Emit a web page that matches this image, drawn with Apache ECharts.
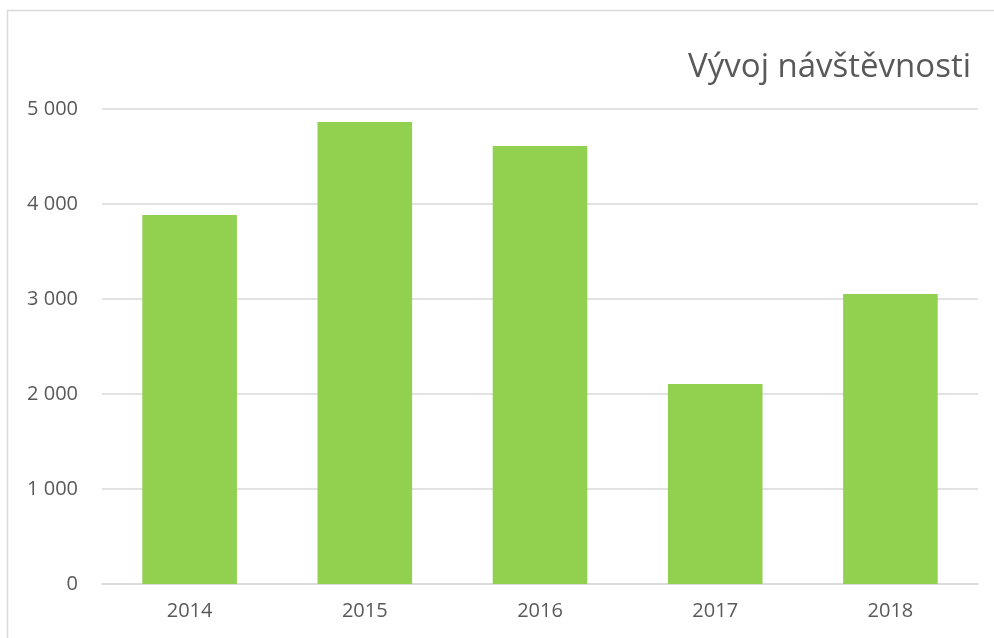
<!DOCTYPE html>
<html>
<head>
<meta charset="utf-8">
<script src="https://cdn.jsdelivr.net/npm/echarts@6/dist/echarts.min.js"></script>
<style>
  html, body { margin: 0; padding: 0; background: #fff; }
  #chart { width: 994px; height: 638px; }
</style>
</head>
<body>
<div id="chart"></div>
<script>
const years = ['2014', '2015', '2016', '2017', '2018']
const visits = [3884, 4863, 4611, 2105, 3053]
const yTicks = { min: 0, max: 5000, step: 1000 }
const titleText = 'Vývoj návštěvnosti'

// mezera jako oddělovač tisíců
const fmt = (v) => String(v).replace(/\B(?=(\d{3})+(?!\d))/g, ' ')

const chart = echarts.init(document.getElementById('chart'))

const option = {
  animation: false,
  textStyle: { fontFamily: 'Open Sans' },
  title: {
    text: titleText,
    right: 18,
    top: 46,
    textStyle: {
      fontFamily: 'Open Sans',
      fontSize: 33,
      fontWeight: 'normal',
      color: '#595959'
    }
  },
  graphic: [
    {
      type: 'rect',
      silent: true,
      shape: { x: 7.5, y: 10.5, width: 1100, height: 800 },
      style: { fill: 'none', stroke: '#d9d9d9', lineWidth: 1.5 }
    }
  ],
  grid: {
    left: 102,
    right: 16,
    top: 109,
    bottom: 54
  },
  xAxis: {
    type: 'category',
    data: years,
    axisLine: { show: true, lineStyle: { color: '#d9d9d9', width: 1.5 } },
    axisTick: { show: false },
    axisLabel: {
      color: '#595959',
      fontSize: 20,
      margin: 17
    }
  },
  yAxis: {
    type: 'value',
    min: yTicks.min,
    max: yTicks.max,
    interval: yTicks.step,
    axisLine: { show: false },
    axisTick: { show: false },
    splitLine: { lineStyle: { color: '#d9d9d9', width: 1.5 } },
    axisLabel: {
      color: '#595959',
      fontSize: 20,
      margin: 24,
      formatter: (v) => fmt(v)
    }
  },
  series: [
    {
      type: 'bar',
      data: visits,
      barWidth: '54%',
      itemStyle: { color: '#92d050' }
    }
  ]
}

chart.setOption(option)
</script>
</body>
</html>
